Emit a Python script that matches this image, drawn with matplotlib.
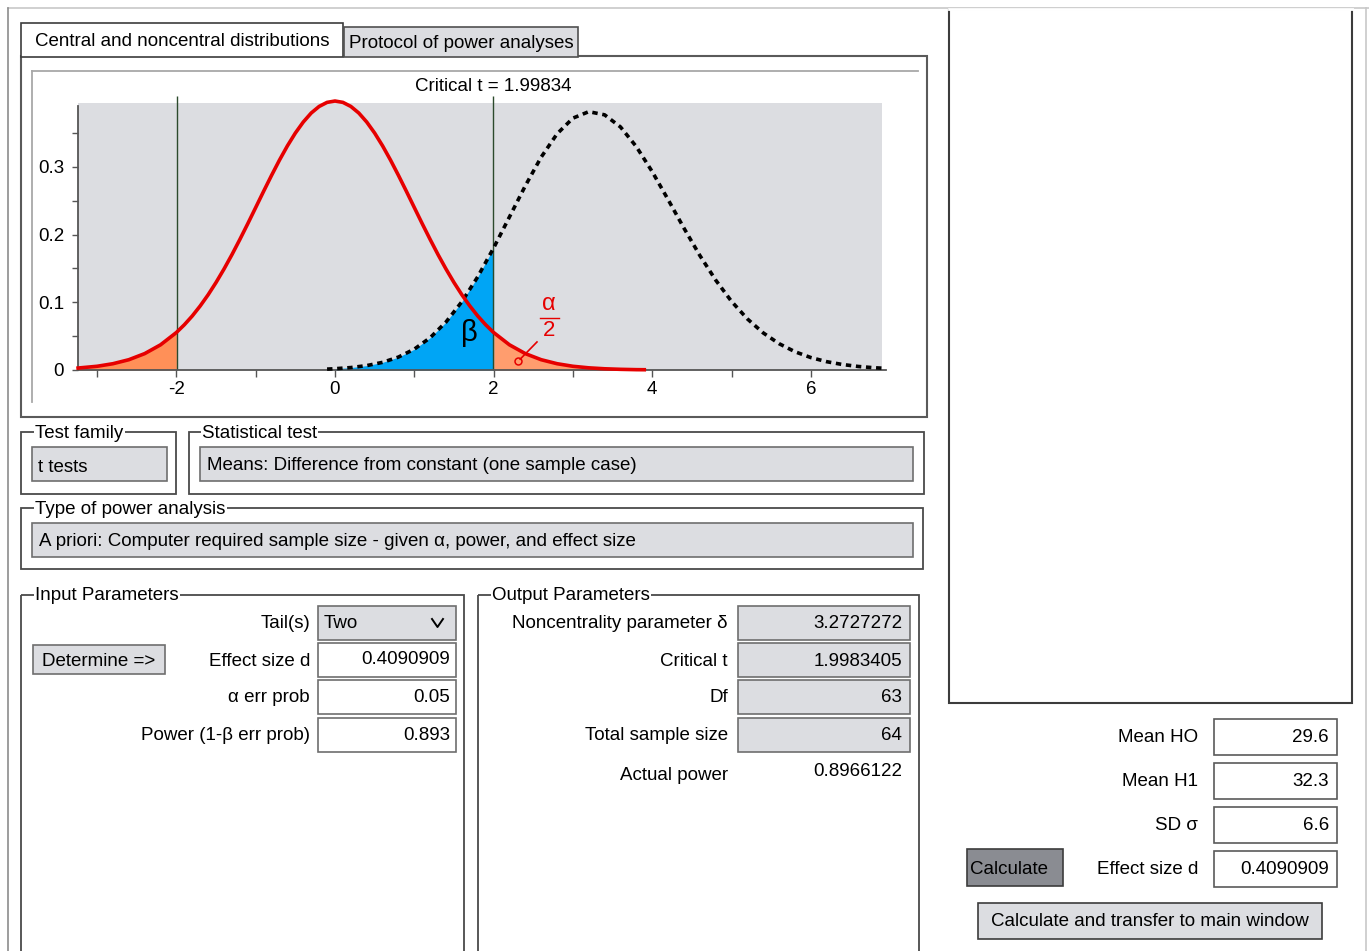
import matplotlib
matplotlib.use("Agg")
import matplotlib.pyplot as plt
from matplotlib.patches import Rectangle
import numpy as np

plt.rcParams['font.family'] = ['Liberation Sans', 'DejaVu Sans']

W, H = 1369, 951
FS = 13.5
GRAY = '#dcdde1'
EDGE = '#6e6e6e'

# central t distribution (df = 63)
x_h0 = [-3.24, -3.0, -2.8, -2.6, -2.4, -2.2, -2.0, -1.9, -1.8, -1.7, -1.6, -1.5,
        -1.4, -1.3, -1.2, -1.1, -1.0, -0.9, -0.8, -0.7, -0.6, -0.5, -0.4, -0.3,
        -0.2, -0.1, 0.0, 0.1, 0.2, 0.3, 0.4, 0.5, 0.6, 0.7, 0.8, 0.9, 1.0, 1.1,
        1.2, 1.3, 1.4, 1.5, 1.6, 1.7, 1.8, 1.9, 2.0, 2.2, 2.4, 2.6, 2.8, 3.0,
        3.2, 3.4, 3.6, 3.8, 3.9]
y_h0 = [0.0029, 0.0055, 0.0093, 0.0152, 0.0242, 0.0372, 0.0554, 0.0668, 0.0798,
        0.0946, 0.1111, 0.1293, 0.1491, 0.1703, 0.1928, 0.2161, 0.2400, 0.2640,
        0.2875, 0.3101, 0.3311, 0.3500, 0.3663, 0.3796, 0.3893, 0.3953, 0.3973,
        0.3953, 0.3893, 0.3796, 0.3663, 0.3500, 0.3311, 0.3101, 0.2875, 0.2640,
        0.2400, 0.2161, 0.1928, 0.1703, 0.1491, 0.1293, 0.1111, 0.0946, 0.0798,
        0.0668, 0.0554, 0.0372, 0.0242, 0.0152, 0.0093, 0.0055, 0.0032, 0.0018,
        0.0010, 0.0005, 0.0004]

# noncentral t distribution (delta = 3.2727)
x_h1 = [-0.1, 0.0, 0.2, 0.4, 0.6, 0.8, 1.0, 1.2, 1.4, 1.6, 1.8, 2.0, 2.2, 2.4,
        2.6, 2.8, 3.0, 3.2, 3.4, 3.6, 3.8, 4.0, 4.2, 4.4, 4.6, 4.8, 5.0, 5.2,
        5.4, 5.6, 5.8, 6.0, 6.2, 6.4, 6.6, 6.8, 6.95]
y_h1 = [0.0013, 0.0019, 0.0036, 0.0065, 0.0113, 0.0191, 0.0308, 0.0477, 0.0709,
        0.1009, 0.1377, 0.1802, 0.2261, 0.2721, 0.3144, 0.3488, 0.3720, 0.3816,
        0.3769, 0.3590, 0.3299, 0.2930, 0.2518, 0.2096, 0.1693, 0.1329, 0.1014,
        0.0755, 0.0548, 0.0389, 0.0270, 0.0184, 0.0123, 0.0081, 0.0052, 0.0033,
        0.0024]

crit_t = 1.99834

test_family = "t tests"
stat_test = "Means: Difference from constant (one sample case)"
analysis_type = "A priori: Computer required sample size - given α, power, and effect size"

input_labels = ["Effect size d", "α err prob", "Power (1-β err prob)"]
input_values = ["0.4090909", "0.05", "0.893"]
output_labels = ["Noncentrality parameter δ", "Critical t", "Df", "Total sample size"]
output_values = ["3.2727272", "1.9983405", "63", "64"]
actual_power = "0.8966122"
side_labels = ["Mean HO", "Mean H1", "SD σ", "Effect size d"]
side_values = ["29.6", "32.3", "6.6", "0.4090909"]

fig = plt.figure(figsize=(W / 100, H / 100), dpi=100)
ui = fig.add_axes([0, 0, 1, 1])
ui.set_xlim(0, W)
ui.set_ylim(H, 0)
ui.axis('off')


def box(x0, y0, x1, y1, fc='none', ec=EDGE, lw=1.2, z=1):
    ui.add_patch(Rectangle((x0, y0), x1 - x0, y1 - y0, facecolor=fc,
                           edgecolor=ec, linewidth=lw, zorder=z))


def txt(x, y, s, ha='left', size=FS, color='black', bg=None, z=5):
    # +2 px: matplotlib centres on the full glyph box, the UI on the x-height
    t = ui.text(x, y + 2, s, ha=ha, va='center', fontsize=size, color=color, zorder=z)
    if bg:
        t.set_bbox(dict(facecolor=bg, edgecolor='none', pad=1))
    return t


# window frame
ui.plot([8, W], [8, 8], color='#c8c8c8', lw=1.2)
ui.plot([8, 8], [8, H], color='#8c8c8c', lw=1.2)
ui.plot([1366, 1366], [8, H], color='#c8c8c8', lw=1.2)

# tabs + chart panel
box(21, 56, 927, 417, fc='white', ec='#5a5a5a', lw=1.5)
box(21, 23, 343, 57, fc='white', ec='#3c3c3c', lw=1.2, z=2)
box(344, 27, 578, 57, fc=GRAY, ec='#505050', lw=1.2, z=2)
txt(182, 39, "Central and noncentral distributions", ha='center')
txt(461, 42, "Protocol of power analyses", ha='center')
ui.plot([32, 918], [71, 71], color='#a8a8a8', lw=1.3)
ui.plot([32, 32], [71, 402], color='#a8a8a8', lw=1.3)

# group boxes
box(21, 432, 176, 494, ec='#4a4a4a', lw=1.3)
box(32, 447, 167, 481, fc=GRAY)
txt(35, 432, "Test family", bg='white')
txt(38, 465, test_family)

box(189, 432, 924, 494, ec='#4a4a4a', lw=1.3)
box(200, 447, 913, 481, fc=GRAY)
txt(202, 432, "Statistical test", bg='white')
txt(207, 464, stat_test)

box(21, 508, 923, 569, ec='#4a4a4a', lw=1.3)
box(32, 523, 913, 557, fc=GRAY)
txt(35, 508, "Type of power analysis", bg='white')
txt(39, 540, analysis_type)

box(21, 595, 464, 960, ec='#4a4a4a', lw=1.3)
txt(35, 593, "Input Parameters", bg='white')
box(478, 595, 919, 960, ec='#4a4a4a', lw=1.3)
txt(492, 593, "Output Parameters", bg='white')

# input parameters
txt(310, 622, "Tail(s)", ha='right')
box(318, 606, 456, 640, fc=GRAY)
txt(324, 622, "Two")
ui.plot([432, 437.5, 443], [619, 627, 619], color='black', lw=1.4, zorder=5)
box(33, 645, 165, 674, fc=GRAY)
txt(42, 659, "Determine =>")
row_y = [660, 697, 735]
for lab, val, yc in zip(input_labels, input_values, row_y):
    txt(310, yc - 1, lab, ha='right')
    box(318, yc - 17, 456, yc + 17, fc='white')
    txt(450, yc - 2, val, ha='right')

# output parameters
out_y = [623, 660, 697, 735]
for lab, val, yc in zip(output_labels, output_values, out_y):
    txt(728, yc - 1, lab, ha='right')
    box(738, yc - 17, 910, yc + 17, fc=GRAY)
    txt(902, yc - 1, val, ha='right')
txt(728, 773, "Actual power", ha='right')
txt(902, 769, actual_power, ha='right')

# right-hand panel
box(949, 9, 1352, 703, fc='white', ec='#3c3c3c', lw=1.5)
ui.plot([949, 1352], [9, 9], color='white', lw=2, zorder=2)
side_y = [737, 781, 825, 869]
for lab, val, yc in zip(side_labels, side_values, side_y):
    txt(1198, yc - 1, lab, ha='right')
    box(1214, yc - 18, 1337, yc + 18, fc='white', ec='#5a5a5a')
    txt(1329, yc - 1, val, ha='right')
box(967, 849, 1063, 886, fc='#8a8c92', ec='#3c3c3c')
txt(970, 867, "Calculate")
box(978, 903, 1322, 939, fc=GRAY, ec='#3c3c3c')
txt(1150, 920, "Calculate and transfer to main window", ha='center')

# ---- distribution chart ----
px0, px1, py0, py1 = 70, 890, 90, 380
ax = fig.add_axes([px0 / W, 1 - py1 / H, (px1 - px0) / W, (py1 - py0) / H])
ax.set_xlim((px0 - 335) / 79.3, (px1 - 335) / 79.3)
ax.set_ylim((370 - py1) / 677.0, (370 - py0) / 677.0)
ax.patch.set_alpha(0)

xa, ya = np.array(x_h0), np.array(y_h0)
xb, yb = np.array(x_h1), np.array(y_h1)

ax.add_patch(Rectangle((-3.24, 0), 6.9 + 3.24, 0.395, facecolor=GRAY,
                       edgecolor='none', zorder=0))
left = xa <= -2.0
right = xa >= 2.0
ax.fill_between(xa[left], 0, ya[left], color='#ff9058', lw=0, zorder=1)
ax.fill_between(xa[right], 0, ya[right], color='#ff9d6e', lw=0, zorder=1)
mid = (xb >= 0) & (xb <= 2.0)
ax.fill_between(xb[mid], 0, yb[mid], color='#00a5f5', lw=0, zorder=1)

ax.vlines([-crit_t, crit_t], 0, 0.405, color='#2c4a2c', lw=1, zorder=2)
ax.plot(xb, yb, color='black', lw=2.6, linestyle=(0, (1.5, 1.3)),
        dash_capstyle='butt', zorder=3)
ax.plot(xa, ya, color='#e60000', lw=2.6, solid_joinstyle='round', zorder=4)

ax.text(crit_t, 0.419, "Critical t = %.5f" % crit_t, ha='center', va='center',
        fontsize=FS)
ax.text(1.70, 0.054, "β", ha='center', va='center', fontsize=21)
ax.text(2.70, 0.098, "α", ha='center', va='center', fontsize=17, color='#e60000')
ax.plot([2.59, 2.83], [0.0775, 0.0775], color='#e60000', lw=1)
ax.text(2.70, 0.058, "2", ha='center', va='center', fontsize=16, color='#e60000')
ax.plot([2.547, 2.335], [0.0414, 0.016], color='#e60000', lw=1.2)
ax.plot([2.31], [0.0128], marker='o', ms=5, mfc='none', mec='#e60000', mew=1.1)

for s in ['top', 'right']:
    ax.spines[s].set_visible(False)
ax.spines['left'].set_position(('data', -3.24))
ax.spines['left'].set_bounds(0, 0.39)
ax.spines['bottom'].set_position(('data', 0))
ax.spines['bottom'].set_bounds(-3.24, 6.95)
for s in ['left', 'bottom']:
    ax.spines[s].set_color('#555555')
    ax.spines[s].set_linewidth(1.3)
    ax.spines[s].set_zorder(2)

ax.set_xticks([-2, 0, 2, 4, 6])
ax.set_xticklabels(['-2', '0', '2', '4', '6'])
ax.set_xticks([-3, -1, 1, 3, 5], minor=True)
ax.set_yticks([0, 0.1, 0.2, 0.3])
ax.set_yticklabels(['0', '0.1', '0.2', '0.3'])
ax.set_yticks([0.05, 0.15, 0.25, 0.35], minor=True)
ax.tick_params(axis='both', which='both', direction='out', colors='#555555',
               labelcolor='black', labelsize=FS, width=1)
ax.tick_params(axis='x', which='both', length=5, pad=3)
ax.tick_params(axis='y', which='both', length=4, pad=6)

fig.savefig("out.png", dpi=100)
